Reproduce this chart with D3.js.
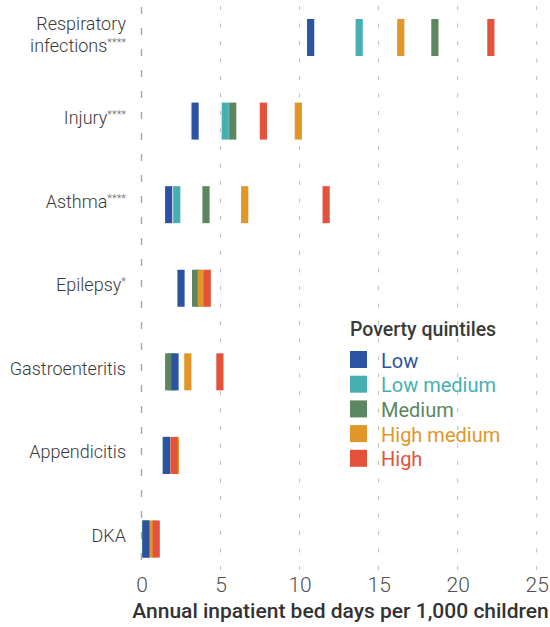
<!DOCTYPE html>
<html>
<head>
<meta charset="utf-8">
<script src="https://cdn.jsdelivr.net/npm/d3@7"></script>
<style>
  html, body { margin: 0; padding: 0; background: #ffffff; }
  svg { display: block; }
</style>
</head>
<body>
<script>
// ---- data ----
const categories = ["Respiratory infections", "Injury", "Asthma", "Epilepsy", "Gastroenteritis", "Appendicitis", "DKA"];
const categoryLines = [["Respiratory", "infections"], ["Injury"], ["Asthma"], ["Epilepsy"], ["Gastroenteritis"], ["Appendicitis"], ["DKA"]];
const significance = ["****", "****", "****", "*", "", "", ""];

const seriesNames = ["Low", "Low medium", "Medium", "High medium", "High"];
const low        = [10.7, 3.39, 1.72, 2.5, 2.12, 1.57, 0.28];
const lowMedium  = [13.77, 5.3, 2.23, 3.6, 1.9, 1.58, 0.28];
const medium     = [18.56, 5.77, 4.08, 3.42, 1.72, 1.6, 0.3];
const highMedium = [16.4, 9.92, 6.53, 3.78, 2.93, 2.15, 0.74];
const high       = [22.1, 7.71, 11.68, 4.16, 4.96, 2.06, 0.93];

const xTicks = [0, 5, 10, 15, 20, 25];
const xTitle = "Annual inpatient bed days per 1,000 children";
const legendTitle = "Poverty quintiles";

// ---- styles ----
const colors = {"Low": "#2c52a3", "Low medium": "#47afb2", "Medium": "#5b8660", "High medium": "#e1962a", "High": "#e4523b"};
const seriesValues = {"Low": low, "Low medium": lowMedium, "Medium": medium, "High medium": highMedium, "High": high};
const drawOrder = ["Low medium", "Medium", "Low", "High medium", "High"];

const W = 550, H = 627;
const svg = d3.select("body").append("svg").attr("width", W).attr("height", H);

const x = d3.scaleLinear().domain([0, 25]).range([141.5, 536.7]);
const y = d3.scalePoint().domain(categories).range([37.5, 539]);
const barW = 7.2, barH = 37;

// grid
const grid = svg.append("g");
grid.selectAll("line").data(xTicks).join("line")
  .attr("x1", d => x(d)).attr("x2", d => x(d))
  .attr("y1", d => d === 0 ? 7 : 6).attr("y2", 570)
  .attr("stroke", d => d === 0 ? "#a8a8a8" : "#bdbdbd")
  .attr("stroke-width", d => d === 0 ? 1.4 : 1)
  .attr("stroke-dasharray", d => d === 0 ? "7,14" : "4,13.5");

// bars
const barData = [];
drawOrder.forEach(s => {
  categories.forEach((c, i) => barData.push({series: s, cat: c, value: seriesValues[s][i]}));
});
svg.append("g").selectAll("rect").data(barData).join("rect")
  .attr("x", d => x(d.value) - barW / 2)
  .attr("y", d => y(d.cat) - barH / 2)
  .attr("width", barW).attr("height", barH)
  .attr("fill", d => colors[d.series]);

// category labels
const labelFont = "Roboto, 'Open Sans', sans-serif";
const lab = svg.append("g");
categories.forEach((c, i) => {
  const lines = categoryLines[i];
  const lh = 22;
  const y0 = y(c) - 4 - (lines.length - 1) * lh / 2;
  lines.forEach((ln, j) => {
    const t = lab.append("text")
      .attr("x", 126).attr("y", y0 + j * lh)
      .attr("text-anchor", "end").attr("dominant-baseline", "central")
      .attr("font-family", labelFont).attr("font-weight", 300)
      .attr("font-size", 18).attr("fill", "#3a3a3a");
    t.append("tspan").text(ln);
    if (j === lines.length - 1 && significance[i]) {
      t.append("tspan").text(significance[i]).attr("font-size", 11).attr("dy", -3).attr("fill", "#666");
    }
  });
});

// x axis
const axis = svg.append("g").attr("transform", "translate(0,577)")
  .call(d3.axisBottom(x).tickValues(xTicks).tickSize(0).tickPadding(0).tickFormat(d3.format("d")));
axis.select(".domain").remove();
axis.selectAll("text")
  .attr("font-family", labelFont).attr("font-weight", 300)
  .attr("font-size", 21).attr("fill", "#505050").attr("dy", "0.71em");

svg.append("text")
  .attr("x", 340.5).attr("y", 618).attr("text-anchor", "middle")
  .attr("font-family", labelFont).attr("font-weight", 500)
  .attr("font-size", 21).attr("fill", "#333333")
  .text(xTitle);

// legend
const leg = svg.append("g");
leg.append("text").attr("x", 350).attr("y", 336)
  .attr("font-family", labelFont).attr("font-weight", 500)
  .attr("font-size", 19.5).attr("fill", "#3a3a3a").text(legendTitle);
const items = leg.selectAll("g.item").data(seriesNames).join("g")
  .attr("transform", (d, i) => `translate(350,${351 + i * 24.7})`);
items.append("rect").attr("width", 17).attr("height", 17).attr("fill", d => colors[d]);
items.append("text").attr("x", 31).attr("y", 16.5)
  .attr("font-family", labelFont).attr("font-weight", 400)
  .attr("font-size", 20).attr("fill", d => colors[d]).text(d => d);
</script>
</body>
</html>
